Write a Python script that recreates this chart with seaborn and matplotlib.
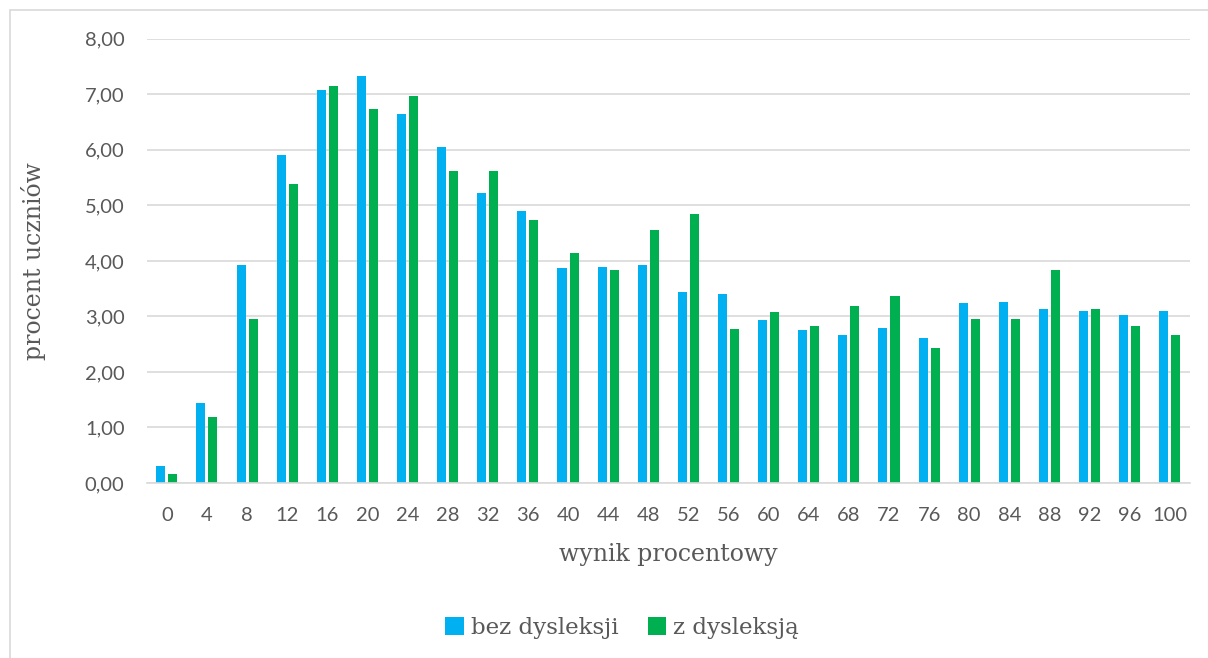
import matplotlib
matplotlib.use("Agg")
import matplotlib.pyplot as plt
from matplotlib.patches import Rectangle
from matplotlib.ticker import FuncFormatter, MultipleLocator
import seaborn as sns
import pandas as pd

categories = [0, 4, 8, 12, 16, 20, 24, 28, 32, 36, 40, 44, 48, 52, 56, 60, 64, 68, 72, 76, 80, 84, 88, 92, 96, 100]
bez_dysleksji = [0.31, 1.44, 3.92, 5.90, 7.08, 7.33, 6.64, 6.05, 5.23, 4.90, 3.87, 3.89, 3.93, 3.44, 3.41, 2.93, 2.76, 2.67, 2.79, 2.61, 3.24, 3.26, 3.14, 3.10, 3.02, 3.10]
z_dysleksja = [0.17, 1.18, 2.95, 5.38, 7.15, 6.73, 6.97, 5.62, 5.62, 4.73, 4.14, 3.84, 4.55, 4.85, 2.78, 3.08, 2.83, 3.19, 3.37, 2.43, 2.95, 2.95, 3.84, 3.13, 2.83, 2.66]
series_names = ["bez dysleksji", "z dysleksją"]
colors = ["#00B0F0", "#00B050"]

df = pd.DataFrame({
    "wynik": [str(c) for c in categories] * 2,
    "procent": bez_dysleksji + z_dysleksja,
    "grupa": [series_names[0]] * len(categories) + [series_names[1]] * len(categories),
})

sns.set_theme(style="white")
fig = plt.figure(figsize=(12.08, 6.58), dpi=100)
ax = fig.add_axes([0.1215, 0.266, 0.8635, 0.675])

sns.barplot(data=df, x="wynik", y="procent", hue="grupa", hue_order=series_names,
            palette=colors, saturation=1, width=0.6, gap=0.25, ax=ax, legend=False,
            edgecolor="none", linewidth=0)

ax.set_ylim(0, 8)
ax.set_xlim(-0.5, len(categories) - 0.5)
ax.yaxis.set_major_locator(MultipleLocator(1))
ax.yaxis.set_major_formatter(FuncFormatter(lambda v, p: f"{v:.2f}".replace(".", ",")))
ax.grid(axis="y", color="#d9d9d9", linewidth=1.2)
ax.set_axisbelow(True)
for s in ["top", "right", "left"]:
    ax.spines[s].set_visible(False)
ax.spines["bottom"].set_color("#d9d9d9")
ax.spines["bottom"].set_linewidth(1.2)
ax.tick_params(axis="both", length=0, labelsize=14.5, labelcolor="#595959")
ax.tick_params(axis="x", pad=17)
ax.tick_params(axis="y", pad=16)
for lab in ax.get_xticklabels() + ax.get_yticklabels():
    lab.set_family("Lato")

ax.set_xlabel("wynik procentowy", fontsize=17, color="#595959", family="DejaVu Serif", labelpad=14)
ax.set_ylabel("procent uczniów", fontsize=17, color="#595959", family="DejaVu Serif", labelpad=28)

handles = [Rectangle((0, 0), 1, 1, facecolor=c, edgecolor="none") for c in colors]
leg = fig.legend(handles, series_names, loc="center", bbox_to_anchor=(0.515, 1 - 628 / 658),
                 ncol=2, frameon=False, handlelength=0.8, handleheight=0.8,
                 handletextpad=0.3, columnspacing=1.3,
                 prop={"family": "DejaVu Serif", "size": 16.5})
for t in leg.get_texts():
    t.set_color("#595959")

fig.patches.append(Rectangle((10 / 1208, -0.1), 1.2, 1 - 10 / 658 + 0.1,
                             transform=fig.transFigure, fill=False,
                             edgecolor="#d9d9d9", linewidth=1.2))

fig.savefig("out.png", dpi=100)
